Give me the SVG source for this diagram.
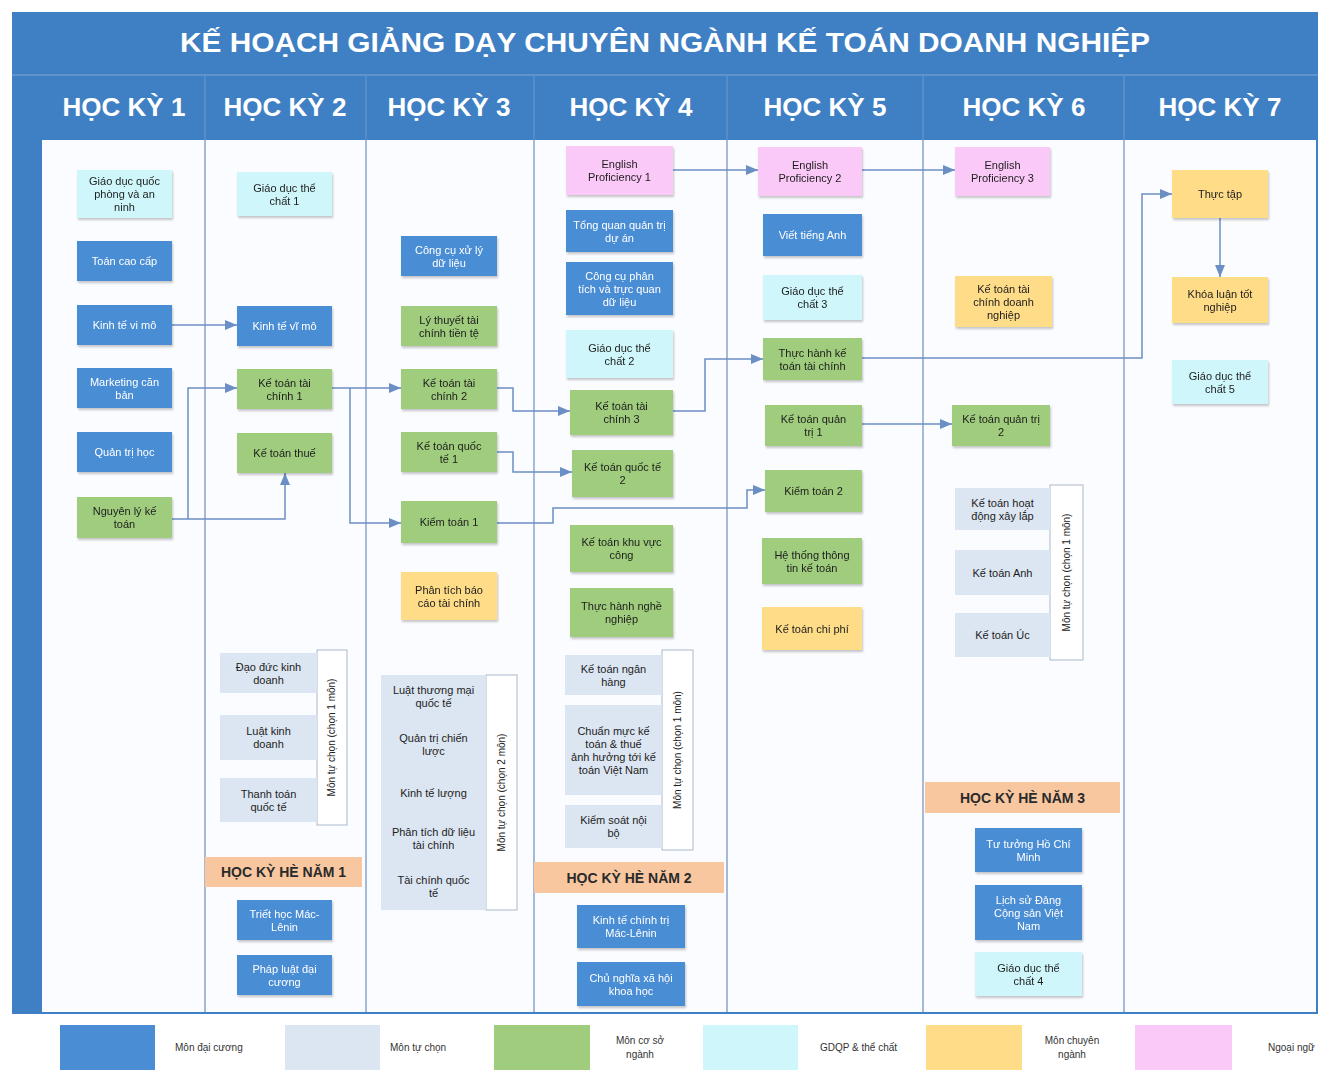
<svg xmlns="http://www.w3.org/2000/svg" width="1343" height="1074" viewBox="0 0 1343 1074">
<style>
text{font-family:"Liberation Sans","Noto Sans",Arial,sans-serif;}
.n rect{stroke:none;}
.t{font-size:11px;fill:#1d1d1d;text-anchor:middle;}
.tw{font-size:11px;fill:#ffffff;text-anchor:middle;}
.blue{fill:#4a8dd5;}
.green{fill:#9fcd7d;}
.cyan{fill:#cff7fb;}
.yellow{fill:#ffdc88;}
.pink{fill:#fbc9f8;}
.gray{fill:#dce6f2;}
.orange{fill:#f8c7a0;}
.lbl{fill:#ffffff;stroke:#a9b8cc;stroke-width:1;}
.vt{font-size:10px;fill:#222;text-anchor:middle;}
.hk{font-size:14px;font-weight:bold;fill:#2a2a2a;text-anchor:middle;}
.hd{font-size:26px;font-weight:bold;fill:#ffffff;text-anchor:middle;}
.div{stroke:#8aa3c8;stroke-width:1.5;}
.hdiv{stroke:#6c9ad0;stroke-width:1;}
.c path{fill:none;stroke:#6b8fc4;stroke-width:1.5;}
.lg{font-size:10px;fill:#333;}
</style>
<defs>
<marker id="arr" viewBox="0 0 12 10" markerWidth="12" markerHeight="10" refX="12" refY="5" orient="auto" markerUnits="userSpaceOnUse">
<path d="M0,0 L12,5 L0,10 z" fill="#6b8fc4"/>
</marker>
<filter id="sh" x="-10%" y="-10%" width="130%" height="140%">
<feDropShadow dx="1" dy="2" stdDeviation="1.2" flood-color="#000" flood-opacity="0.22"/>
</filter>
</defs>
<rect x="0" y="0" width="1343" height="1074" fill="#ffffff"/>
<!-- frame -->
<g id="frame">
<rect x="12" y="12" width="1306" height="1002" fill="#3f7fc4"/>
<rect x="42" y="140" width="1274" height="872" fill="#fbfcff"/>
<line x1="12" y1="75" x2="1318" y2="75" stroke="#6c9ad0" stroke-width="1.5"/>
<text x="665" y="52" font-size="28" font-weight="bold" fill="#ffffff" text-anchor="middle" textLength="970" lengthAdjust="spacingAndGlyphs">KẾ HOẠCH GIẢNG DẠY CHUYÊN NGÀNH KẾ TOÁN DOANH NGHIỆP</text>
<line class="hdiv" x1="205" y1="76" x2="205" y2="140"/>
<line class="hdiv" x1="366" y1="76" x2="366" y2="140"/>
<line class="hdiv" x1="534" y1="76" x2="534" y2="140"/>
<line class="hdiv" x1="727" y1="76" x2="727" y2="140"/>
<line class="hdiv" x1="923" y1="76" x2="923" y2="140"/>
<line class="hdiv" x1="1124" y1="76" x2="1124" y2="140"/>
<text class="hd" x="124" y="116">HỌC KỲ 1</text>
<text class="hd" x="285" y="116">HỌC KỲ 2</text>
<text class="hd" x="449" y="116">HỌC KỲ 3</text>
<text class="hd" x="631" y="116">HỌC KỲ 4</text>
<text class="hd" x="825" y="116">HỌC KỲ 5</text>
<text class="hd" x="1024" y="116">HỌC KỲ 6</text>
<text class="hd" x="1220" y="116">HỌC KỲ 7</text>
<line class="div" x1="205" y1="140" x2="205" y2="1012"/>
<line class="div" x1="366" y1="140" x2="366" y2="1012"/>
<line class="div" x1="534" y1="140" x2="534" y2="1012"/>
<line class="div" x1="727" y1="140" x2="727" y2="1012"/>
<line class="div" x1="923" y1="140" x2="923" y2="1012"/>
<line class="div" x1="1124" y1="140" x2="1124" y2="1012"/>
</g>

<!-- connectors -->
<g id="connectors" class="c">
<path d="M172,325 H237" marker-end="url(#arr)"/>
<path d="M172,519 H285 V473" marker-end="url(#arr)"/>
<path d="M188,519 V388 H237" marker-end="url(#arr)"/>
<path d="M332,388 H401" marker-end="url(#arr)"/>
<path d="M350,388 V523 H401" marker-end="url(#arr)"/>
<path d="M497,388 H513 V411 H570" marker-end="url(#arr)"/>
<path d="M497,452 H513 V472 H572" marker-end="url(#arr)"/>
<path d="M497,523 H553 V508 H747 V490 H765" marker-end="url(#arr)"/>
<path d="M673,411 H705 V359 H763" marker-end="url(#arr)"/>
<path d="M862,358 H1142 V194 H1172" marker-end="url(#arr)"/>
<path d="M1220,218 V277" marker-end="url(#arr)"/>
<path d="M673,170 H758" marker-end="url(#arr)"/>
<path d="M862,170 H955" marker-end="url(#arr)"/>
<path d="M862,424 H952" marker-end="url(#arr)"/>
</g>

<!-- HOC KY 1 -->
<g id="n-gdqp" class="n" filter="url(#sh)"><rect class="cyan" x="77" y="170" width="95" height="48"/><text class="t" x="124.5" y="185">Giáo dục quốc<tspan x="124.5" y="198">phòng và an</tspan><tspan x="124.5" y="211">ninh</tspan></text></g>
<g id="n-toancaocap" class="n" filter="url(#sh)"><rect class="blue" x="77" y="241" width="95" height="40"/><text class="tw" x="124.5" y="265">Toán cao cấp</text></g>
<g id="n-ktvimo" class="n" filter="url(#sh)"><rect class="blue" x="77" y="305" width="95" height="40"/><text class="tw" x="124.5" y="329">Kinh tế vi mô</text></g>
<g id="n-marketing" class="n" filter="url(#sh)"><rect class="blue" x="77" y="368" width="95" height="40"/><text class="tw" x="124.5" y="385.5">Marketing căn<tspan x="124.5" y="398.5">bản</tspan></text></g>
<g id="n-qth" class="n" filter="url(#sh)"><rect class="blue" x="77" y="432" width="95" height="40"/><text class="tw" x="124.5" y="456">Quản trị học</text></g>
<g id="n-nlkt" class="n" filter="url(#sh)"><rect class="green" x="77" y="497" width="95" height="41"/><text class="t" x="124.5" y="515">Nguyên lý kế<tspan x="124.5" y="528">toán</tspan></text></g>

<!-- HOC KY 2 -->
<g id="n-gdtc1" class="n" filter="url(#sh)"><rect class="cyan" x="237" y="172" width="95" height="44"/><text class="t" x="284.5" y="191.5">Giáo dục thể<tspan x="284.5" y="204.5">chất 1</tspan></text></g>
<g id="n-ktvimo2" class="n" filter="url(#sh)"><rect class="blue" x="237" y="306" width="95" height="40"/><text class="tw" x="284.5" y="330">Kinh tế vĩ mô</text></g>
<g id="n-kttc1" class="n" filter="url(#sh)"><rect class="green" x="237" y="369" width="95" height="40"/><text class="t" x="284.5" y="386.5">Kế toán tài<tspan x="284.5" y="399.5">chính 1</tspan></text></g>
<g id="n-ktthue" class="n" filter="url(#sh)"><rect class="green" x="237" y="433" width="95" height="40"/><text class="t" x="284.5" y="457">Kế toán thuế</text></g>
<g id="g-tc1">
<rect class="lbl" x="317" y="650" width="30" height="175"/>
<text class="vt" transform="translate(335,737.5) rotate(-90)">Môn tự chọn (chọn 1 môn)</text>
<g id="n-ddkd" class="n"><rect class="gray" x="220" y="653" width="97" height="40"/><text class="t" x="268.5" y="670.5">Đạo đức kinh<tspan x="268.5" y="683.5">doanh</tspan></text></g>
<g id="n-lkd" class="n"><rect class="gray" x="220" y="715" width="97" height="45"/><text class="t" x="268.5" y="735">Luật kinh<tspan x="268.5" y="748">doanh</tspan></text></g>
<g id="n-ttqt" class="n"><rect class="gray" x="220" y="778" width="97" height="44"/><text class="t" x="268.5" y="797.5">Thanh toán<tspan x="268.5" y="810.5">quốc tế</tspan></text></g>
</g>
<g id="n-hkhe1"><rect class="orange" x="205" y="857" width="157" height="30"/><text class="hk" x="283.5" y="877">HỌC KỲ HÈ NĂM 1</text></g>
<g id="n-triet" class="n" filter="url(#sh)"><rect class="blue" x="237" y="900" width="95" height="40"/><text class="tw" x="284.5" y="917.5">Triết học Mác-<tspan x="284.5" y="930.5">Lênin</tspan></text></g>
<g id="n-pldc" class="n" filter="url(#sh)"><rect class="blue" x="237" y="955" width="95" height="40"/><text class="tw" x="284.5" y="972.5">Pháp luật đại<tspan x="284.5" y="985.5">cương</tspan></text></g>

<!-- HOC KY 3 -->
<g id="n-ccxl" class="n" filter="url(#sh)"><rect class="blue" x="401" y="236" width="96" height="40"/><text class="tw" x="449" y="253.5">Công cụ xử lý<tspan x="449" y="266.5">dữ liệu</tspan></text></g>
<g id="n-lttc" class="n" filter="url(#sh)"><rect class="green" x="401" y="306" width="96" height="40"/><text class="t" x="449" y="323.5">Lý thuyết tài<tspan x="449" y="336.5">chính tiền tệ</tspan></text></g>
<g id="n-kttc2" class="n" filter="url(#sh)"><rect class="green" x="401" y="369" width="96" height="40"/><text class="t" x="449" y="386.5">Kế toán tài<tspan x="449" y="399.5">chính 2</tspan></text></g>
<g id="n-ktqt1" class="n" filter="url(#sh)"><rect class="green" x="401" y="432" width="96" height="40"/><text class="t" x="449" y="449.5">Kế toán quốc<tspan x="449" y="462.5">tế 1</tspan></text></g>
<g id="n-kiemtoan1" class="n" filter="url(#sh)"><rect class="green" x="401" y="501" width="96" height="42"/><text class="t" x="449" y="526">Kiểm toán 1</text></g>
<g id="n-ptbctc" class="n" filter="url(#sh)"><rect class="yellow" x="401" y="572" width="96" height="48"/><text class="t" x="449" y="593.5">Phân tích báo<tspan x="449" y="606.5">cáo tài chính</tspan></text></g>
<g id="g-tc2">
<rect class="lbl" x="486" y="675" width="31" height="235"/>
<text class="vt" transform="translate(505,792.5) rotate(-90)">Môn tự chọn (chọn 2 môn)</text>
<g id="n-ltmqt" class="n"><rect class="gray" x="381" y="675" width="105" height="43" stroke="#ffffff"/><text class="t" x="433.5" y="694">Luật thương mại<tspan x="433.5" y="707">quốc tế</tspan></text></g>
<g id="n-qtcl" class="n"><rect class="gray" x="381" y="718" width="105" height="52" stroke="#ffffff"/><text class="t" x="433.5" y="741.5">Quản trị chiến<tspan x="433.5" y="754.5">lược</tspan></text></g>
<g id="n-ktl" class="n"><rect class="gray" x="381" y="770" width="105" height="45" stroke="#ffffff"/><text class="t" x="433.5" y="796.5">Kinh tế lượng</text></g>
<g id="n-ptdl" class="n"><rect class="gray" x="381" y="815" width="105" height="47" stroke="#ffffff"/><text class="t" x="433.5" y="836">Phân tích dữ liệu<tspan x="433.5" y="849">tài chính</tspan></text></g>
<g id="n-tcqt" class="n"><rect class="gray" x="381" y="862" width="105" height="48" stroke="#ffffff"/><text class="t" x="433.5" y="883.5">Tài chính quốc<tspan x="433.5" y="896.5">tế</tspan></text></g>
</g>

<!-- HOC KY 4 -->
<g id="n-ep1" class="n" filter="url(#sh)"><rect class="pink" x="566" y="146" width="107" height="49"/><text class="t" x="619.5" y="168">English<tspan x="619.5" y="181">Proficiency 1</tspan></text></g>
<g id="n-qtda" class="n" filter="url(#sh)"><rect class="blue" x="566" y="210" width="107" height="42"/><text class="tw" x="619.5" y="228.5">Tổng quan quản trị<tspan x="619.5" y="241.5">dự án</tspan></text></g>
<g id="n-ccpt" class="n" filter="url(#sh)"><rect class="blue" x="566" y="262" width="107" height="53"/><text class="tw" x="619.5" y="279.5">Công cụ phân<tspan x="619.5" y="292.5">tích và trực quan</tspan><tspan x="619.5" y="305.5">dữ liệu</tspan></text></g>
<g id="n-gdtc2" class="n" filter="url(#sh)"><rect class="cyan" x="566" y="330" width="107" height="48"/><text class="t" x="619.5" y="351.5">Giáo dục thể<tspan x="619.5" y="364.5">chất 2</tspan></text></g>
<g id="n-kttc3" class="n" filter="url(#sh)"><rect class="green" x="570" y="390" width="103" height="45"/><text class="t" x="621.5" y="410">Kế toán tài<tspan x="621.5" y="423">chính 3</tspan></text></g>
<g id="n-ktqt2" class="n" filter="url(#sh)"><rect class="green" x="572" y="450" width="101" height="47"/><text class="t" x="622.5" y="471">Kế toán quốc tế<tspan x="622.5" y="484">2</tspan></text></g>
<g id="n-ktkvc" class="n" filter="url(#sh)"><rect class="green" x="570" y="525" width="103" height="47"/><text class="t" x="621.5" y="546">Kế toán khu vực<tspan x="621.5" y="559">công</tspan></text></g>
<g id="n-thnn" class="n" filter="url(#sh)"><rect class="green" x="570" y="588" width="103" height="49"/><text class="t" x="621.5" y="610">Thực hành nghề<tspan x="621.5" y="623">nghiệp</tspan></text></g>
<g id="g-tc3">
<rect class="lbl" x="662" y="650" width="31" height="200"/>
<text class="vt" transform="translate(681,750) rotate(-90)">Môn tự chọn (chọn 1 môn)</text>
<g id="n-ktnh" class="n"><rect class="gray" x="565" y="655" width="97" height="40"/><text class="t" x="613.5" y="672.5">Kế toán ngân<tspan x="613.5" y="685.5">hàng</tspan></text></g>
<g id="n-cmkt" class="n"><rect class="gray" x="565" y="705" width="97" height="90"/><text class="t" x="613.5" y="734.5">Chuẩn mực kế<tspan x="613.5" y="747.5">toán &amp; thuế</tspan><tspan x="613.5" y="760.5">ảnh hưởng tới kế</tspan><tspan x="613.5" y="773.5">toán Việt Nam</tspan></text></g>
<g id="n-ksnb" class="n"><rect class="gray" x="565" y="805" width="97" height="43"/><text class="t" x="613.5" y="824">Kiểm soát nội<tspan x="613.5" y="837">bộ</tspan></text></g>
</g>
<g id="n-hkhe2"><rect class="orange" x="534" y="862" width="190" height="31"/><text class="hk" x="629" y="882.5">HỌC KỲ HÈ NĂM 2</text></g>
<g id="n-ktct" class="n" filter="url(#sh)"><rect class="blue" x="577" y="905" width="108" height="43"/><text class="tw" x="631" y="924">Kinh tế chính trị<tspan x="631" y="937">Mác-Lênin</tspan></text></g>
<g id="n-cnxh" class="n" filter="url(#sh)"><rect class="blue" x="577" y="962" width="108" height="44"/><text class="tw" x="631" y="981.5">Chủ nghĩa xã hội<tspan x="631" y="994.5">khoa học</tspan></text></g>

<!-- HOC KY 5 -->
<g id="n-ep2" class="n" filter="url(#sh)"><rect class="pink" x="758" y="147" width="104" height="49"/><text class="t" x="810" y="169">English<tspan x="810" y="182">Proficiency 2</tspan></text></g>
<g id="n-vta" class="n" filter="url(#sh)"><rect class="blue" x="763" y="214" width="99" height="42"/><text class="tw" x="812.5" y="239">Viết tiếng Anh</text></g>
<g id="n-gdtc3" class="n" filter="url(#sh)"><rect class="cyan" x="763" y="275" width="99" height="45"/><text class="t" x="812.5" y="295">Giáo dục thể<tspan x="812.5" y="308">chất 3</tspan></text></g>
<g id="n-thkttc" class="n" filter="url(#sh)"><rect class="green" x="763" y="338" width="99" height="42"/><text class="t" x="812.5" y="356.5">Thực hành kế<tspan x="812.5" y="369.5">toán tài chính</tspan></text></g>
<g id="n-ktqtri1" class="n" filter="url(#sh)"><rect class="green" x="765" y="405" width="97" height="41"/><text class="t" x="813.5" y="423">Kế toán quản<tspan x="813.5" y="436">trị 1</tspan></text></g>
<g id="n-kiemtoan2" class="n" filter="url(#sh)"><rect class="green" x="765" y="470" width="97" height="42"/><text class="t" x="813.5" y="495">Kiểm toán 2</text></g>
<g id="n-htttkt" class="n" filter="url(#sh)"><rect class="green" x="762" y="538" width="100" height="46"/><text class="t" x="812" y="558.5">Hệ thống thông<tspan x="812" y="571.5">tin kế toán</tspan></text></g>
<g id="n-ktcp" class="n" filter="url(#sh)"><rect class="yellow" x="762" y="607" width="100" height="43"/><text class="t" x="812" y="632.5">Kế toán chi phí</text></g>

<!-- HOC KY 6 -->
<g id="n-ep3" class="n" filter="url(#sh)"><rect class="pink" x="955" y="147" width="95" height="49"/><text class="t" x="1002.5" y="169">English<tspan x="1002.5" y="182">Proficiency 3</tspan></text></g>
<g id="n-kttcdn" class="n" filter="url(#sh)"><rect class="yellow" x="955" y="276" width="97" height="51"/><text class="t" x="1003.5" y="292.5">Kế toán tài<tspan x="1003.5" y="305.5">chính doanh</tspan><tspan x="1003.5" y="318.5">nghiệp</tspan></text></g>
<g id="n-ktqtri2" class="n" filter="url(#sh)"><rect class="green" x="952" y="405" width="98" height="41"/><text class="t" x="1001" y="423">Kế toán quản trị<tspan x="1001" y="436">2</tspan></text></g>
<g id="g-tc4">
<rect class="lbl" x="1050" y="485" width="33" height="175"/>
<text class="vt" transform="translate(1070,572.5) rotate(-90)">Môn tự chọn (chọn 1 môn)</text>
<g id="n-ktxl" class="n"><rect class="gray" x="955" y="488" width="95" height="42"/><text class="t" x="1002.5" y="506.5">Kế toán hoạt<tspan x="1002.5" y="519.5">động xây lắp</tspan></text></g>
<g id="n-ktanh" class="n"><rect class="gray" x="955" y="550" width="95" height="45"/><text class="t" x="1002.5" y="576.5">Kế toán Anh</text></g>
<g id="n-ktuc" class="n"><rect class="gray" x="955" y="613" width="95" height="44"/><text class="t" x="1002.5" y="639">Kế toán Úc</text></g>
</g>
<g id="n-hkhe3"><rect class="orange" x="925" y="782" width="195" height="31"/><text class="hk" x="1022.5" y="802.5">HỌC KỲ HÈ NĂM 3</text></g>
<g id="n-tthcm" class="n" filter="url(#sh)"><rect class="blue" x="975" y="828" width="107" height="44"/><text class="tw" x="1028.5" y="847.5">Tư tưởng Hồ Chí<tspan x="1028.5" y="860.5">Minh</tspan></text></g>
<g id="n-lsd" class="n" filter="url(#sh)"><rect class="blue" x="975" y="885" width="107" height="55"/><text class="tw" x="1028.5" y="903.5">Lịch sử Đảng<tspan x="1028.5" y="916.5">Cộng sản Việt</tspan><tspan x="1028.5" y="929.5">Nam</tspan></text></g>
<g id="n-gdtc4" class="n" filter="url(#sh)"><rect class="cyan" x="975" y="952" width="107" height="44"/><text class="t" x="1028.5" y="971.5">Giáo dục thể<tspan x="1028.5" y="984.5">chất 4</tspan></text></g>

<!-- HOC KY 7 -->
<g id="n-thuctap" class="n" filter="url(#sh)"><rect class="yellow" x="1172" y="170" width="96" height="48"/><text class="t" x="1220" y="198">Thực tập</text></g>
<g id="n-khoaluan" class="n" filter="url(#sh)"><rect class="yellow" x="1172" y="277" width="96" height="46"/><text class="t" x="1220" y="297.5">Khóa luận tốt<tspan x="1220" y="310.5">nghiệp</tspan></text></g>
<g id="n-gdtc5" class="n" filter="url(#sh)"><rect class="cyan" x="1172" y="360" width="96" height="44"/><text class="t" x="1220" y="379.5">Giáo dục thể<tspan x="1220" y="392.5">chất 5</tspan></text></g>

<!-- legend -->
<g id="legend">
<rect class="blue" x="60" y="1025" width="95" height="45"/>
<text class="lg" x="175" y="1051">Môn đại cương</text>
<rect class="gray" x="285" y="1025" width="95" height="45"/>
<text class="lg" x="390" y="1051">Môn tự chọn</text>
<rect class="green" x="494" y="1025" width="96" height="45"/>
<text class="lg" x="640" y="1044" text-anchor="middle">Môn cơ sở<tspan x="640" y="1058">ngành</tspan></text>
<rect class="cyan" x="703" y="1025" width="95" height="45"/>
<text class="lg" x="820" y="1051">GDQP &amp; thể chất</text>
<rect class="yellow" x="926" y="1025" width="96" height="45"/>
<text class="lg" x="1072" y="1044" text-anchor="middle">Môn chuyên<tspan x="1072" y="1058">ngành</tspan></text>
<rect class="pink" x="1135" y="1025" width="97" height="45"/>
<text class="lg" x="1268" y="1051">Ngoại ngữ</text>
</g>
</svg>
